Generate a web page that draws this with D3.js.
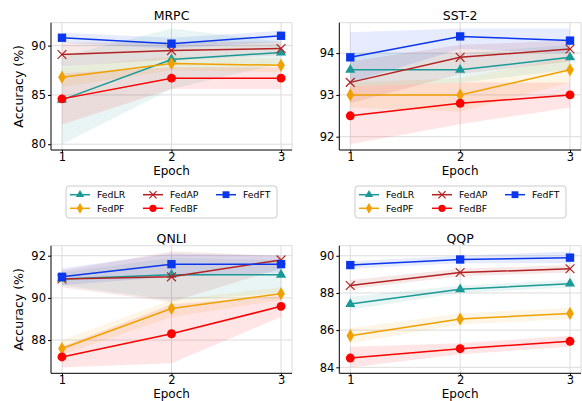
<!DOCTYPE html>
<html>
<head>
<meta charset="utf-8">
<script src="https://cdn.jsdelivr.net/npm/d3@7"></script>
<style>
  body { margin: 0; background: #fff; }
  svg { display: block; font-family: "DejaVu Sans", sans-serif; }
</style>
</head>
<body>
<svg id="chart" width="582" height="401"></svg>
<script>
// methods in plot order (legend is column-major, 3 columns)
const METHODS = ['FedLR', 'FedPF', 'FedAP', 'FedBF', 'FedFT'];
const EPOCHS = [1, 2, 3];
const COLORS = { FedLR: '#1a9a96', FedPF: '#f0a000', FedAP: '#b22222', FedBF: '#ff0000', FedFT: '#0a36ee' };
const SHAPES = { FedLR: 'triangle', FedPF: 'diamond', FedAP: 'x', FedBF: 'circle', FedFT: 'square' };

// rows follow METHODS order
const MRPC_MEAN = [[84.5, 88.6, 89.3], [86.8, 88.2, 88.0], [89.1, 89.5, 89.7], [84.6, 86.7, 86.7], [90.8, 90.2, 91.0]];
const MRPC_LOW  = [[80.0, 85.6, 88.2], [85.8, 87.5, 87.3], [87.9, 88.6, 89.0], [82.0, 85.6, 85.6], [90.3, 89.7, 90.4]];
const MRPC_HIGH = [[88.9, 91.74, 90.4], [87.8, 88.9, 88.7], [90.3, 90.4, 90.4], [87.2, 87.8, 87.8], [91.3, 90.8, 91.5]];

const SST2_MEAN = [[93.6, 93.6, 93.9], [93.0, 93.0, 93.6], [93.3, 93.9, 94.1], [92.5, 92.8, 93.0], [93.9, 94.4, 94.3]];
const SST2_LOW  = [[93.2, 93.3, 93.6], [92.7, 92.6, 93.3], [92.8, 93.5, 93.8], [91.82, 92.3, 92.7], [93.3, 94.1, 94.0]];
const SST2_HIGH = [[94.0, 94.0, 94.2], [93.3, 93.4, 93.9], [93.8, 94.2, 94.3], [93.2, 93.3, 93.3], [94.5, 94.59, 94.59]];

const QNLI_MEAN = [[90.9, 91.1, 91.1], [87.6, 89.5, 90.2], [90.9, 91.0, 91.8], [87.2, 88.3, 89.6], [91.0, 91.6, 91.6]];
const QNLI_LOW  = [[90.6, 89.9, 90.2], [87.3, 89.1, 89.9], [90.5, 89.8, 91.4], [86.7, 86.9, 89.1], [90.6, 91.0, 91.2]];
const QNLI_HIGH = [[91.2, 91.9, 91.8], [88.0, 89.9, 90.5], [91.3, 92.2, 92.0], [87.7, 89.7, 90.1], [91.4, 92.1, 92.0]];

const QQP_MEAN = [[87.4, 88.2, 88.5], [85.7, 86.6, 86.9], [88.4, 89.1, 89.3], [84.5, 85.0, 85.4], [89.5, 89.8, 89.9]];
const QQP_LOW  = [[87.1, 88.0, 88.3], [85.3, 86.3, 86.6], [88.2, 88.9, 89.1], [83.99, 84.7, 85.1], [89.3, 89.6, 89.6]];
const QQP_HIGH = [[87.8, 88.4, 88.7], [86.1, 86.9, 87.2], [88.7, 89.3, 89.5], [85.1, 85.3, 85.7], [89.7, 90.0, 90.23]];

const MRPC_TICKS = [80, 85, 90];
const SST2_TICKS = [92, 93, 94];
const QNLI_TICKS = [88, 90, 92];
const QQP_TICKS = [84, 86, 88, 90];

const panels = [
  { title: 'MRPC', mean: MRPC_MEAN, low: MRPC_LOW, high: MRPC_HIGH, ticks: MRPC_TICKS, x0: 51, x1: 292, y0: 22.7, y1: 150, ylabel: true },
  { title: 'SST-2', mean: SST2_MEAN, low: SST2_LOW, high: SST2_HIGH, ticks: SST2_TICKS, x0: 339.3, x1: 581, y0: 22.7, y1: 150, ylabel: false },
  { title: 'QNLI', mean: QNLI_MEAN, low: QNLI_LOW, high: QNLI_HIGH, ticks: QNLI_TICKS, x0: 51, x1: 292, y0: 245.7, y1: 373.3, ylabel: true },
  { title: 'QQP', mean: QQP_MEAN, low: QQP_LOW, high: QQP_HIGH, ticks: QQP_TICKS, x0: 339.3, x1: 581, y0: 245.7, y1: 373.3, ylabel: false }
];

const svg = d3.select('#chart');

function drawMarker(sel, shape, color, s) {
  if (shape === 'x') {
    sel.append('path').attr('d', `M${-s},${-s}L${s},${s}M${-s},${s}L${s},${-s}`)
      .attr('stroke', color).attr('stroke-width', 1.2).attr('fill', 'none');
    return;
  }
  const sym = { triangle: d3.symbolTriangle, diamond: d3.symbolDiamond, circle: d3.symbolCircle, square: d3.symbolSquare }[shape];
  const size = { triangle: s * s * 2.3, diamond: s * s * 2.6, circle: s * s * 3.2, square: s * s * 3.6 }[shape];
  sel.append('path').attr('d', d3.symbol(sym, size)()).attr('fill', color);
}

function drawPanel(p) {
  const allVals = p.low.flat().concat(p.high.flat());
  const lo = d3.min(allVals), hi = d3.max(allVals), pad = (hi - lo) * 0.05;
  const x = d3.scaleLinear().domain([0.9, 3.1]).range([p.x0, p.x1]);
  const y = d3.scaleLinear().domain([lo - pad, hi + pad]).range([p.y1, p.y0]);
  const g = svg.append('g');

  // grid
  g.selectAll('line.gx').data(EPOCHS).enter().append('line')
    .attr('x1', d => x(d)).attr('x2', d => x(d)).attr('y1', p.y0).attr('y2', p.y1)
    .attr('stroke', '#dcdcdc').attr('stroke-width', 1);
  g.selectAll('line.gy').data(p.ticks).enter().append('line')
    .attr('x1', p.x0).attr('x2', p.x1).attr('y1', d => y(d)).attr('y2', d => y(d))
    .attr('stroke', '#dcdcdc').attr('stroke-width', 1);
  g.append('line').attr('x1', p.x0).attr('x2', p.x1).attr('y1', p.y0).attr('y2', p.y0).attr('stroke', '#dcdcdc');
  g.append('line').attr('x1', p.x1).attr('x2', p.x1).attr('y1', p.y0).attr('y2', p.y1).attr('stroke', '#dcdcdc');

  // bands
  const area = d3.area().x((d, i) => x(EPOCHS[i])).y0(d => y(d[0])).y1(d => y(d[1]));
  METHODS.forEach((m, k) => {
    const band = EPOCHS.map((e, i) => [p.low[k][i], p.high[k][i]]);
    g.append('path').attr('d', area(band)).attr('fill', COLORS[m]).attr('fill-opacity', 0.1);
  });

  // lines and markers
  const line = d3.line().x((d, i) => x(EPOCHS[i])).y(d => y(d));
  METHODS.forEach((m, k) => {
    g.append('path').attr('d', line(p.mean[k])).attr('fill', 'none')
      .attr('stroke', COLORS[m]).attr('stroke-width', 1.5);
    p.mean[k].forEach((v, i) => {
      const mk = g.append('g').attr('transform', `translate(${x(EPOCHS[i])},${y(v)})`);
      drawMarker(mk, SHAPES[m], COLORS[m], 4.4);
    });
  });

  // spines
  g.append('line').attr('x1', p.x0).attr('x2', p.x0).attr('y1', p.y0).attr('y2', p.y1).attr('stroke', '#000').attr('stroke-width', 1);
  g.append('line').attr('x1', p.x0).attr('x2', p.x1).attr('y1', p.y1).attr('y2', p.y1).attr('stroke', '#000').attr('stroke-width', 1);

  // axes
  const ya = g.append('g').attr('transform', `translate(${p.x0},0)`)
    .call(d3.axisLeft(y).tickValues(p.ticks).tickFormat(d3.format('d')).tickSize(3).tickPadding(2));
  const xa = g.append('g').attr('transform', `translate(0,${p.y1})`)
    .call(d3.axisBottom(x).tickValues(EPOCHS).tickFormat(d3.format('d')).tickSize(2).tickPadding(0.5));
  [ya, xa].forEach(a => {
    a.select('.domain').remove();
    a.selectAll('text').attr('font-size', '11.5px').attr('fill', '#000').attr('font-family', 'DejaVu Sans');
    a.selectAll('line').attr('stroke', '#000');
  });

  const cx = (p.x0 + p.x1) / 2;
  g.append('text').attr('x', cx).attr('y', p.y0 - 2.5).attr('text-anchor', 'middle')
    .attr('font-size', '12.5px').text(p.title);
  g.append('text').attr('x', cx).attr('y', p.y1 + 24.8).attr('text-anchor', 'middle')
    .attr('font-size', '12px').text('Epoch');
  if (p.ylabel) {
    g.append('text').attr('transform', `translate(23,${(p.y0 + p.y1) / 2}) rotate(-90)`)
      .attr('text-anchor', 'middle').attr('font-size', '12.5px').text('Accuracy (%)');
  }
}

panels.forEach(drawPanel);

// legends
function drawLegend(lx, ly) {
  const g = svg.append('g').attr('transform', `translate(${lx},${ly})`);
  g.append('rect').attr('width', 211).attr('height', 32).attr('rx', 3)
    .attr('fill', '#fff').attr('fill-opacity', 0.8).attr('stroke', '#cccccc').attr('stroke-width', 1);
  METHODS.forEach((m, k) => {
    const col = Math.floor(k / 2), row = k % 2;
    const ox = 4 + col * 73, oy = 8.7 + row * 13.6;
    const it = g.append('g').attr('transform', `translate(${ox},${oy})`);
    it.append('line').attr('x1', 0).attr('x2', 20).attr('stroke', COLORS[m]).attr('stroke-width', 1.5);
    drawMarker(it.append('g').attr('transform', 'translate(10,0)'), SHAPES[m], COLORS[m], 3.6);
    it.append('text').attr('x', 27).attr('y', 3.3).attr('font-size', '9.3px').text(m);
  });
}
drawLegend(66, 186);
drawLegend(355, 186);
</script>
</body>
</html>
